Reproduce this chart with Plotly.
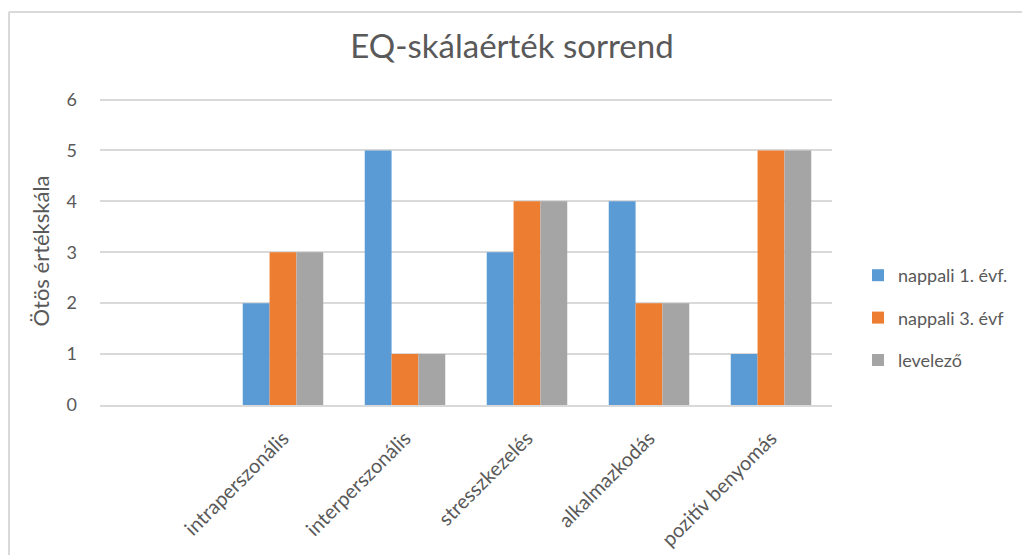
import plotly.graph_objects as go

categories = [" ", "intraperszonális", "interperszonális", "stresszkezelés", "alkalmazkodás", "pozitív benyomás"]
series_names = ["nappali 1. évf.", "nappali 3. évf", "levelező"]
nappali1 = [None, 2, 5, 3, 4, 1]
nappali3 = [None, 3, 1, 4, 2, 5]
levelezo = [None, 3, 1, 4, 2, 5]
colors = ["#5B9BD5", "#ED7D31", "#A5A5A5"]

FONT = "Lato"
TXT = "#595959"

fig = go.Figure()
for name, vals, col in zip(series_names, [nappali1, nappali3, levelezo], colors):
    fig.add_trace(go.Bar(x=categories, y=vals, name=name, legendgroup=name,
                         marker=dict(color=col, line=dict(width=0))))

OFF = 8  # browser default body margin
W, H = 1030, 555
YMAX = 6.05
unit = (405 - 100) / 6.0
L, T = 100 - OFF, int(round(100 - (YMAX - 6) * unit)) - OFF
R = W - (832 - OFF)
B = H - (405 - OFF)
pw, ph = W - L - R, H - T - B
bx = (9 - OFF - L) / pw
ty = (H - B - (12 - OFF)) / ph

fig.update_layout(
    width=W, height=H,
    margin=dict(l=L, r=R, t=T, b=B, autoexpand=False),
    paper_bgcolor="white", plot_bgcolor="white",
    barmode="group", bargap=0.34, bargroupgap=0,
    font=dict(family=FONT, color=TXT),
    title=dict(text="EQ-skálaérték sorrend", x=(512 - OFF) / W, xanchor="center",
               y=1 - (46 - OFF) / H, yanchor="middle", yref="container",
               font=dict(size=33, color=TXT, family=FONT)),
    legend=dict(x=(858 - OFF - L) / pw, xanchor="left",
                y=(H - B - (318 - OFF)) / ph, yanchor="middle",
                font=dict(size=18, color=TXT, family=FONT),
                tracegroupgap=16, bgcolor="rgba(0,0,0,0)"),
    xaxis=dict(type="category", tickangle=-45, showgrid=False,
               showline=True, linecolor="#D9D9D9", linewidth=1.5,
               ticks="", tickfont=dict(size=20, color=TXT, family=FONT),
               ticklabelstandoff=12, automargin=False),
    yaxis=dict(range=[0, YMAX], tickvals=[0, 1, 2, 3, 4, 5, 6], showgrid=True,
               gridcolor="#D9D9D9", gridwidth=1.5, zeroline=False, showline=False,
               ticks="", tickfont=dict(size=18, color=TXT, family=FONT),
               ticklabelstandoff=22, automargin=False,
               title=dict(text="Ötös értékskála",
                          font=dict(size=22, color=TXT, family=FONT),
                          standoff=10)),
    shapes=[
        dict(type="line", xref="paper", yref="paper", x0=bx, x1=bx, y0=-1, y1=ty,
             line=dict(color="#D9D9D9", width=2)),
        dict(type="line", xref="paper", yref="paper", x0=bx, x1=1.5, y0=ty, y1=ty,
             line=dict(color="#D9D9D9", width=2)),
    ],
)

fig.write_html("out.html")
